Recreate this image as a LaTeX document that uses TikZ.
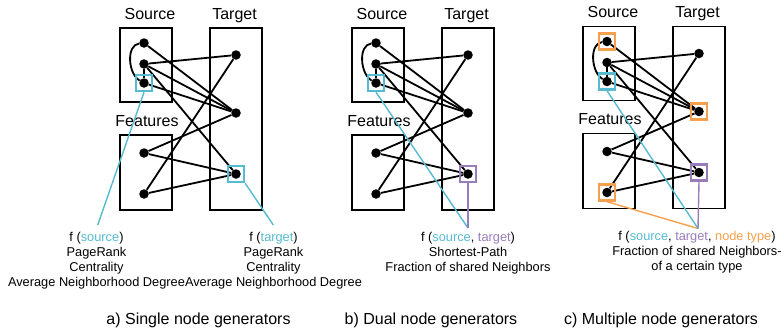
\documentclass[tikz,border=0pt]{standalone}
\usepackage{fontspec}
\setmainfont{Liberation Sans}
\definecolor{hcyan}{HTML}{56BAD0}
\definecolor{hpurple}{HTML}{997CBA}
\definecolor{horange}{HTML}{F6A04D}
\tikzset{
  frame/.style={draw, line width=1.6pt, inner sep=0pt},
  lbl/.style={inner sep=0pt, font=\fontsize{16}{19}\selectfont},
  small/.style={inner sep=0pt, align=center, font=\fontsize{12.8}{15}\selectfont},
  dot/.style={circle, fill=black, inner sep=0pt, minimum size=9.5pt},
  edge/.style={line width=1.8pt},
  hlbox/.style={draw=#1, line width=2.4pt, inner sep=0pt, minimum size=16pt, fill=none},
  link/.style={draw=#1, line width=1.4pt},
}
\newcommand\netpanel[1]{%
  \node[frame, minimum width=52pt, minimum height=74pt] (#1Sbox) at (146,65) {};
  \node[frame, minimum width=52pt, minimum height=75pt] (#1Fbox) at (146,172.5) {};
  \node[frame, minimum width=52pt, minimum height=182pt] (#1Tbox) at (236,119) {};
  \node[lbl, anchor=base] (#1Slab) at (150,19) {Source};
  \node[lbl, anchor=base] (#1Tlab) at (234.5,19) {Target};
  \node[lbl, anchor=base] (#1Flab) at (147,126) {Features};
  \node[dot] (#1S1) at (144,43) {};
  \node[dot] (#1S2) at (144,64) {};
  \node[dot] (#1S3) at (144,83) {};
  \node[dot] (#1T1) at (236,55) {};
  \node[dot] (#1T2) at (236,113) {};
  \node[dot] (#1T3) at (236,174) {};
  \node[dot] (#1F1) at (144,153) {};
  \node[dot] (#1F2) at (144,194) {};
  \draw[edge] (#1S1) -- (#1T2);
  \draw[edge] (#1S2) -- (#1T1);
  \draw[edge] (#1S2) -- (#1T2);
  \draw[edge] (#1S2) -- (#1T3);
  \draw[edge] (#1S3) -- (#1T2);
  \draw[edge] (#1S2) -- (#1S3);
  \draw[edge] (#1S1) .. controls (126,45) and (128,74) .. (#1S3);
  \draw[edge] (#1F1) -- (#1T2);
  \draw[edge] (#1F1) -- (#1T3);
  \draw[edge] (#1F2) -- (#1T1);
  \draw[edge] (#1F2) -- (#1T3);
}
\begin{document}
\begin{tikzpicture}[x=1pt, y=-1pt]
\useasboundingbox (0,0) rectangle (783,330);
% ---------- panel a ----------
\begin{scope}
  \netpanel{a}
  \node[hlbox=hcyan] (aHs) at (aS3) {};
  \node[hlbox=hcyan] (aHt) at (aT3) {};
\end{scope}
\coordinate (aEndS) at (97.7,225);
\coordinate (aEndT) at (273.3,225);
\draw[link=hcyan] (aHs.south) -- (aEndS);
\draw[link=hcyan] (aHt.south east) -- (aEndT);
\node[small, anchor=north] (aTxtS) at (96.5,232.5)
  {f (\textcolor{hcyan}{source})\\PageRank\\Centrality\\Average Neighborhood Degree};
\node[small, anchor=north] (aTxtT) at (273.5,232.5)
  {f (\textcolor{hcyan}{target})\\PageRank\\Centrality\\Average Neighborhood Degree};
\node[lbl, anchor=base] (aCap) at (198.5,324) {a) Single node generators};
% ---------- panel b ----------
\begin{scope}[shift={(232,0)}]
  \netpanel{b}
  \node[hlbox=hcyan] (bHs) at (bS3) {};
  \node[hlbox=hpurple] (bHt) at (bT3) {};
\end{scope}
\coordinate (bEnd) at (468,228);
\draw[link=hcyan] (bHs.south) -- (bEnd);
\draw[link=hpurple] (bHt.south) -- (bEnd);
\node[small, anchor=north] (bTxt) at (468,232.5)
  {f (\textcolor{hcyan}{source}, \textcolor{hpurple}{target})\\Shortest-Path\\Fraction of shared Neighbors};
\node[lbl, anchor=base] (bCap) at (431,324) {b) Dual node generators};
% ---------- panel c ----------
\begin{scope}[shift={(463,-1.5)}]
  \netpanel{c}
  \node[hlbox=horange] (cHs1) at (cS1) {};
  \node[hlbox=hcyan] (cHs3) at (cS3) {};
  \node[hlbox=horange] (cHt2) at (cT2) {};
  \node[hlbox=hpurple] (cHt3) at (cT3) {};
  \node[hlbox=horange] (cHf2) at (cF2) {};
\end{scope}
\coordinate (cEnd) at (698,228.5);
\draw[link=horange] (cHf2.south) -- (cEnd);
\draw[link=hcyan] (cHs3.south) -- (cEnd);
\draw[link=hpurple] (cHt3.south) -- (cEnd);
\node[small, anchor=north] (cTxt) at (697,231)
  {f (\textcolor{hcyan}{source}, \textcolor{hpurple}{target}, \textcolor{horange}{node type})\\Fraction of shared Neighbors-\\of a certain type};
\node[lbl, anchor=base] (cCap) at (661,324) {c) Multiple node generators};
\end{tikzpicture}
\end{document}
